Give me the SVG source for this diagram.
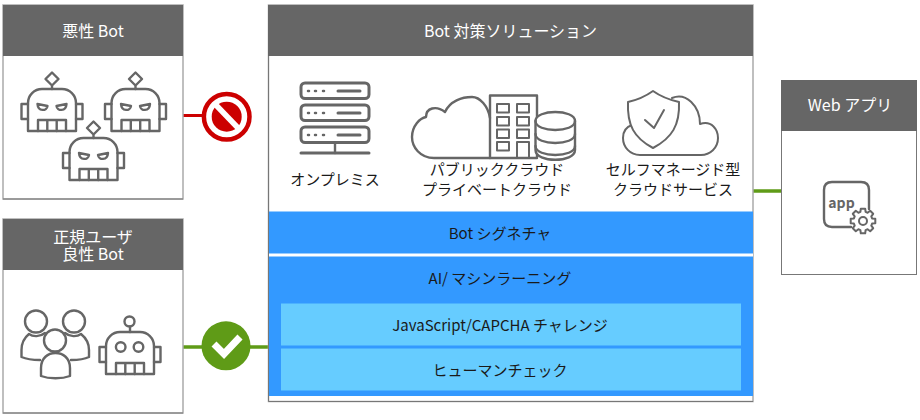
<svg xmlns="http://www.w3.org/2000/svg" xmlns:xlink="http://www.w3.org/1999/xlink" width="920" height="420" viewBox="0 0 920 420">
<style>
text{font-family:"Noto Sans CJK JP","Noto Sans",sans-serif;font-size:15px;text-anchor:middle;fill:#1a1a1a}
.h{fill:#fff;font-size:16px}
.box{fill:#fff;stroke:#aaa;stroke-width:1.500}
.btm{stroke:#777;stroke-width:1;fill:none}
.head{fill:#666}
.ic{fill:none;stroke:#666;stroke-width:2.400;stroke-linejoin:round;stroke-linecap:round}
.ict{fill:none;stroke:#666;stroke-width:2;stroke-linejoin:round;stroke-linecap:round}
.th{fill:none;stroke:#666;stroke-width:3;stroke-linejoin:round;stroke-linecap:round}
.w{fill:#fff}
</style>
<defs>
<g id="robotBody">
<path class="ic" d="M-24 52V24a14 14 0 0 1 14-14H10a14 14 0 0 1 14 14V52Z"/>
<path class="ic" d="M-24 25h-6.500v15H-24M24 25h6.500v15H24M-14 52V41H14V52M-4.700 41V52M4.700 41V52"/>
</g>
<g id="evil">
<use xlink:href="#robotBody"/>
<path class="ic" d="M0 -6.500L6.500 0L0 6.500L-6.500 0ZM0 6.500V10"/>
<path class="ic" d="M-14.500 25L-4.500 27C-5 32-14 33-14.500 25ZM14.500 25L4.500 27C5 32 14 33 14.500 25Z"/>
</g>
</defs>
<g id="connectors">
<path d="M183 115.500H205" stroke="#c00" stroke-width="3" fill="none"/>
<path d="M183 347H268" stroke="#5f9b17" stroke-width="3.500" fill="none"/>
<path d="M753 191H781" stroke="#5f9b17" stroke-width="3.500" fill="none"/>
</g>
<g id="bad-bot">
<rect class="box" x="3" y="5" width="180" height="194"/>
<path class="btm" d="M3 199H183"/>
<rect class="head" x="3" y="5" width="180" height="51"/>
<text class="h" x="93" y="37">悪性 Bot</text>
<use xlink:href="#evil" x="52" y="79"/>
<use xlink:href="#evil" x="135.500" y="79"/>
<use xlink:href="#evil" x="93.500" y="128"/>
</g>
<g id="no-sign">
<circle cx="226.700" cy="116.700" r="22.800" fill="#fff" stroke="#c00" stroke-width="4.500"/>
<circle cx="226.700" cy="116.700" r="15" fill="#c00"/>
<path d="M214 103L240 130" stroke="#fff" stroke-width="5.500"/>
</g>
<g id="good-user">
<rect class="box" x="3" y="219" width="180" height="194"/>
<path class="btm" d="M3 413H183"/>
<rect class="head" x="3" y="219" width="180" height="51"/>
<text class="h" x="93"><tspan x="93" y="243">正規ユーザ</tspan><tspan x="93" y="260">良性 Bot</tspan></text>
<circle class="ic" cx="36" cy="321.500" r="11"/>
<circle class="ic" cx="74" cy="321.500" r="11"/>
<circle class="ic" cx="55" cy="340.500" r="11"/>
<path class="ic" d="M40 360C33 360 26 359 21.500 357V350C21.500 343 24 338 29 334C33 337 40 337 45 333M71 360C78 360 85 359 89 357V350C89 343 86 338 81 334C77 337 70 337 65 333M41 376V368C41 358 48 353 55.500 353C63 353 70 358 70 368V376C62 379 49 379 41 376Z"/>
<use xlink:href="#robotBody" x="130" y="322"/>
<circle class="ic" cx="129.500" cy="321.500" r="5"/>
<path class="ic" d="M130 326.500V332"/>
<circle class="ic" cx="120.700" cy="347" r="4.800"/>
<circle class="ic" cx="138.500" cy="347" r="4.800"/>
</g>
<g id="ok-sign">
<circle cx="226" cy="345.800" r="24.500" fill="#5f9b17"/>
<path d="M214 344L224 354L240 337" fill="none" stroke="#fff" stroke-width="7"/>
</g>
<g id="solution">
<rect class="box" x="268.500" y="5" width="484.500" height="396.500"/>
<path class="btm" d="M268.500 5V401.500H753"/>
<rect class="head" x="268" y="5" width="485" height="51"/>
<text class="h" x="510.500" y="37">Bot 対策ソリューション</text>
<g id="onprem">
<rect class="th" x="301" y="83" width="68" height="15.500" rx="4"/>
<rect class="th" x="301" y="105" width="68" height="15.500" rx="4"/>
<rect class="th" x="301" y="127" width="68" height="15.500" rx="4"/>
<path class="th" d="M338 91H360M338 113H360M338 135H360"/>
<path class="ic" d="M335 143V153"/>
<path class="th" d="M301 153H369"/>
<path d="M308 91h1M315 91h1M323 91h1M308 113h1M315 113h1M323 113h1M308 135h1M315 135h1M323 135h1" stroke="#666" stroke-width="2.500" stroke-linecap="round" fill="none"/>
<text x="335" y="185">オンプレミス</text>
</g>
<g id="cloud">
<path class="ic" d="M490 158H434C420 158 412 147 412 137C412 126 420 118 426 117C426 108 436 105 445 112C450 101 462 97 472 97C480 97 488 106 490 118"/>
<rect class="ic" x="490" y="95.500" width="47" height="62.500"/>
<path class="ict" d="M497 104h12v8.500h-12ZM517 104h12v8.500h-12ZM497 117h12v8.500h-12ZM517 117h12v8.500h-12ZM497 129.500h12v8.500h-12ZM517 129.500h12v8.500h-12ZM497 142h12v8.500h-12ZM517 158V142H529V158"/>
<path class="ic w" d="M535.500 121C535.500 109 575 109 575 121V150C575 163 535.500 163 535.500 150Z"/>
<path class="ic" d="M535.500 121C535.500 133 575 133 575 121M535.500 134C535.500 146 575 146 575 134M535.500 146C535.500 158 575 158 575 146"/>
<text x="497" y="175">パブリッククラウド</text>
<text x="497" y="195">プライベートクラウド</text>
</g>
<g id="self">
<path class="ict" d="M672 98C686 92 700 106 700 124C712 120 718 130 718 138C718 148 710 155 701 155H640C630 155 623 147 623 138C623 132 626 127 632 125"/>
<path class="ict w" d="M628 102C637 100 646 96 653 91C660 96 670 100 679 102C680 125 672 138 653 148C634 138 627 125 628 102Z"/>
<path class="ict" d="M645 120L654 128L664 110"/>
<text x="673" y="175">セルフマネージド型</text>
<text x="673" y="195">クラウドサービス</text>
</g>
<rect x="269" y="211.500" width="484" height="184.500" fill="#3399ff"/>
<rect x="269" y="253.500" width="484" height="3" fill="#fff"/>
<text x="500" y="239">Bot シグネチャ</text>
<text x="500" y="284">AI/ マシンラーニング</text>
<rect x="281" y="303.500" width="460" height="42" fill="#66ccff"/>
<rect x="281" y="348.500" width="460" height="42" fill="#66ccff"/>
<text x="500" y="331">JavaScript/CAPCHA チャレンジ</text>
<text x="500" y="376">ヒューマンチェック</text>
</g>
<g id="webapp">
<rect x="781.500" y="80.500" width="135" height="194" fill="#fff" stroke="#777" stroke-width="1"/>
<rect class="head" x="781" y="80" width="136" height="51"/>
<text class="h" x="850" y="111">Web アプリ</text>
<path class="ic" d="M851 227H832Q824 227 824 219V190Q824 182 832 182H861Q869 182 869 190V209"/>
<text x="841.500" y="208" style="font-size:14px;font-weight:600;fill:#666">app</text>
<circle class="ict" cx="863" cy="221" r="4"/>
<path class="ict" transform="translate(863 221)" d="M12.300-2.200L12.300 2.200L9.100 2.600L8.300 4.600L10.200 7.200L7.200 10.200L4.600 8.300L2.600 9.100L2.200 12.300L-2.200 12.300L-2.600 9.100L-4.600 8.300L-7.200 10.200L-10.200 7.200L-8.300 4.600L-9.100 2.600L-12.300 2.200L-12.300-2.200L-9.100-2.600L-8.300-4.600L-10.200-7.200L-7.200-10.200L-4.600-8.300L-2.600-9.100L-2.200-12.300L2.200-12.300L2.600-9.100L4.600-8.300L7.200-10.200L10.200-7.200L8.300-4.600L9.100-2.600Z"/>
</g>
</svg>
